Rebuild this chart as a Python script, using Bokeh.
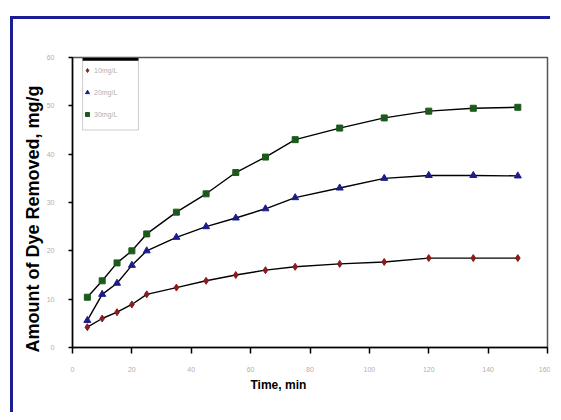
from bokeh.plotting import figure
from bokeh.embed import file_html
from bokeh.resources import INLINE
from bokeh.models import Legend, LegendItem, BoxAnnotation, FixedTicker, Title

time_min = [5, 10, 15, 20, 25, 35, 45, 55, 65, 75, 90, 105, 120, 135, 150]
s10 = [4.2, 6.0, 7.3, 8.9, 11.0, 12.4, 13.8, 15.0, 16.0, 16.7, 17.3, 17.7, 18.5, 18.5, 18.5]
s20 = [5.6, 11.0, 13.3, 17.0, 20.0, 22.8, 25.0, 26.8, 28.7, 31.0, 33.0, 35.0, 35.6, 35.6, 35.5]
s30 = [10.4, 13.8, 17.5, 20.0, 23.5, 28.0, 31.8, 36.2, 39.4, 43.0, 45.4, 47.5, 48.9, 49.5, 49.7]
labels = ["10mg/L", "20mg/L", "30mg/L"]
x_ticks = [0, 20, 40, 60, 80, 100, 120, 140, 160]
y_ticks = [0, 10, 20, 30, 40, 50, 60]

p = figure(width=540, height=396, x_range=(0, 160), y_range=(0, 60),
           output_backend="svg", toolbar_location=None,
           min_border_left=59, min_border_right=6, min_border_top=38, min_border_bottom=68,
           margin=(16, 0, 0, 10))
p.styles = {"border-top": "3px solid #1c1c96", "border-left": "3px solid #1c1c96"}
p.background_fill_color = "white"
p.border_fill_color = "white"
p.outline_line_color = "#555555"
p.outline_line_width = 1.5
p.xgrid.visible = False
p.ygrid.visible = False

font = "Liberation Sans"
for ax in (p.xaxis[0], p.yaxis[0]):
    ax.axis_line_color = "black"
    ax.axis_line_width = 1.5
    ax.major_tick_line_color = "black"
    ax.major_tick_line_width = 1.5
    ax.minor_tick_line_color = None
    ax.major_label_text_color = "#b0b0b0"
    ax.major_label_text_font_size = "7px"
    ax.major_label_text_font = font

p.xaxis.ticker = FixedTicker(ticks=x_ticks)
p.yaxis.ticker = FixedTicker(ticks=y_ticks)
p.xaxis.major_tick_out = 6
p.xaxis.major_tick_in = 0
p.xaxis.major_label_standoff = 13
p.yaxis.major_tick_out = 4
p.yaxis.major_tick_in = 0
p.yaxis.major_label_standoff = 14

ytitle = Title(text="Amount of Dye Removed, mg/g", align="left", offset=-5, standoff=2,
               text_font=font, text_font_style="bold", text_font_size="18px",
               text_color="black")
p.add_layout(ytitle, "left")

xtitle = Title(text="Time, min", align="left", offset=178, standoff=2,
               text_font=font, text_font_style="bold", text_font_size="12px",
               text_color="black")
p.add_layout(xtitle, "below")

# legend frame (drawn below the transparent legend)
p.add_layout(BoxAnnotation(left=3.4, right=22.2, top=60, bottom=45.0,
                           fill_color="white", fill_alpha=1, line_color="#555555",
                           line_width=1))
p.add_layout(BoxAnnotation(left=3.4, right=22.2, top=60, bottom=59.35,
                           fill_color="black", fill_alpha=1, line_color=None))

colors = ["#8b1c1c", "#1c1c8b", "#1c5a1c"]
markers = ["diamond", "triangle", "square"]
sizes = [7, 7, 6]
items = []
for ys, c, m, sz, lab in zip([s10, s20, s30], colors, markers, sizes, labels):
    p.line(time_min, ys, line_color="black", line_width=1.4)
    r = p.scatter(time_min, ys, marker=m, size=sz, fill_color=c, line_color=c)
    items.append(LegendItem(label=lab, renderers=[r]))

legend = Legend(items=items, location=(10, 226))
legend.label_text_font_size = "7px"
legend.label_text_color = "#b0b0b0"
legend.label_text_font = font
legend.glyph_width = 10
legend.glyph_height = 14
legend.label_height = 14
legend.label_standoff = 2
legend.spacing = 8
legend.padding = 4
legend.margin = 0
legend.border_line_color = None
legend.background_fill_alpha = 0
p.add_layout(legend, "center")

open("out.html", "w").write(file_html(p, INLINE))
